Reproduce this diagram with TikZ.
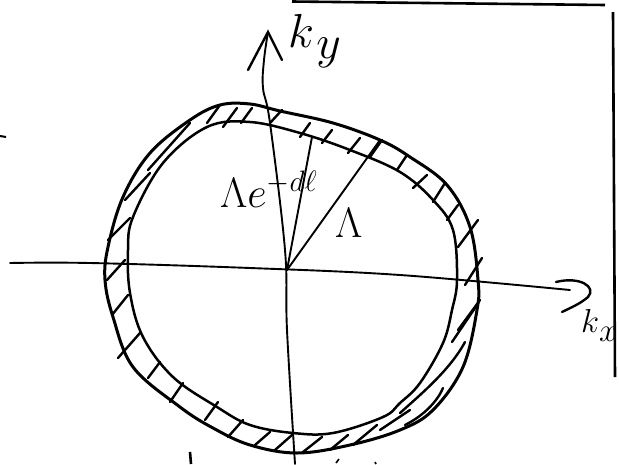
\documentclass[tikz,border=0pt]{standalone}
\usepackage{graphicx}
\begin{document}
\begin{tikzpicture}[x=1pt,y=-1pt,
  ring/.style={line width=3pt,line join=round},
  innerring/.style={line width=2.5pt,line join=round},
  axis/.style={line width=1.9pt,line cap=round},
  hatch/.style={line width=2.4pt,line cap=round},
  frame/.style={line width=2.6pt},
  lab/.style={inner sep=0pt,anchor=base west}]
\useasboundingbox (0,0) rectangle (619,464);
\fill[white] (0,0) rectangle (619,464);

% frame fragments
\coordinate (t1) at (292,1.5); \coordinate (t2) at (605,5);
\draw[frame] (t1) -- (t2);
\coordinate (r1) at (613,12); \coordinate (r2) at (615,377);
\draw[frame] (r1) -- (r2);
\coordinate (l1) at (0,136); \coordinate (l2) at (6,137);
\draw[line width=2pt] (l1) -- (l2);
\coordinate (b1) at (190,452); \coordinate (b2) at (191,464);
\draw[frame] (b1) -- (b2);
\draw[line width=1.6pt] (336,463) -- (339,459);
\draw[line width=1.6pt] (375,462) -- (376,464);

% shell
\draw[ring] plot[smooth cycle, tension=0.6] coordinates {(250,104) (280,111) (333,123) (380,140) (410,157) (447,185) (470,227) (478,280) (477,310) (463,367) (433,410) (400,430) (350,445) (297,453) (250,445) (213,428) (180,407) (133,367) (113,317) (105,280) (108,247) (123,197) (150,153) (190,120) (220,105)};
\draw[innerring] plot[smooth cycle, tension=0.6] coordinates {(250,122) (300,133) (350,150) (400,172) (433,200) (453,230) (457,280) (452,310) (443,343) (420,383) (400,403) (383,417) (333,433) (293,433) (250,425) (217,407) (173,377) (143,337) (130,293) (128,250) (133,217) (163,163) (207,127)};

% hatching
\foreach \a/\b/\c/\d in {
 108/240/130/218, 125/200/150/173, 148/170/190/123,
 207/123/220/105, 223/127/237/108, 241/123/252/108, 270/123/282/110,
 300/137/310/123, 322/143/332/130, 348/153/360/138, 370/157/382/140,
 397/170/407/155, 413/188/427/175, 433/202/445/183, 447/220/458/205,
 458/247/478/220, 465/285/482/258, 458/330/480/300, 452/342/475/308,
 380/430/410/410, 353/445/377/425, 330/450/348/435, 303/452/322/437,
 275/450/292/435, 255/445/270/432, 228/437/243/420, 205/420/218/402,
 170/402/183/383, 148/378/160/362, 118/358/140/333, 112/315/128/295,
 107/280/125/260}
 \draw[hatch] (\a,\b) -- (\c,\d);
\draw[hatch] (400,413) .. controls (420,395) and (450,370) .. (465,342);
\draw[hatch] (405,425) .. controls (425,415) and (438,400) .. (443,388);

% axes
\coordinate (O) at (287,270);
\coordinate (kxS) at (10,263);
\coordinate (kxE) at (570,290);
\draw[axis] plot[smooth, tension=0.6] coordinates {(kxS) (90,263) (250,268) (400,275) (kxE)};
\draw[axis,line width=2.4pt] (556,282) .. controls (580,276) and (597,287) .. (588,297) .. controls (580,304) and (570,308) .. (562,312);
\coordinate (kyS) at (295,464);
\coordinate (kyT) at (268,32);
\draw[axis] plot[smooth, tension=0.6] coordinates {(kyS) (287,330) (285,250) (270,123) (263,88) (264,60) (kyT)};
\draw[axis,line width=2.4pt] (248,70) -- (kyT) -- (282,60);

% radii
\coordinate (Lin) at (312,137);
\coordinate (Lout) at (380,140);
\draw[axis] (O) -- (Lin);
\draw[axis] (O) -- (Lout);

% labels
\node[lab] (ky) at (288,47) {\scalebox{2.3}{\huge$k$\hspace{1pt}\raisebox{-5pt}{$y$}}};
\node[lab] (kx) at (581,332) {\scalebox{1.6}{\huge$k$\raisebox{-6pt}{$x$}}};
\node[lab] (lin) at (220,207) {\scalebox{2.05}{\huge$\Lambda e^{-d\ell}$}};
\node[lab] (lout) at (335,237) {\scalebox{2.05}{\huge$\Lambda$}};
\end{tikzpicture}
\end{document}
